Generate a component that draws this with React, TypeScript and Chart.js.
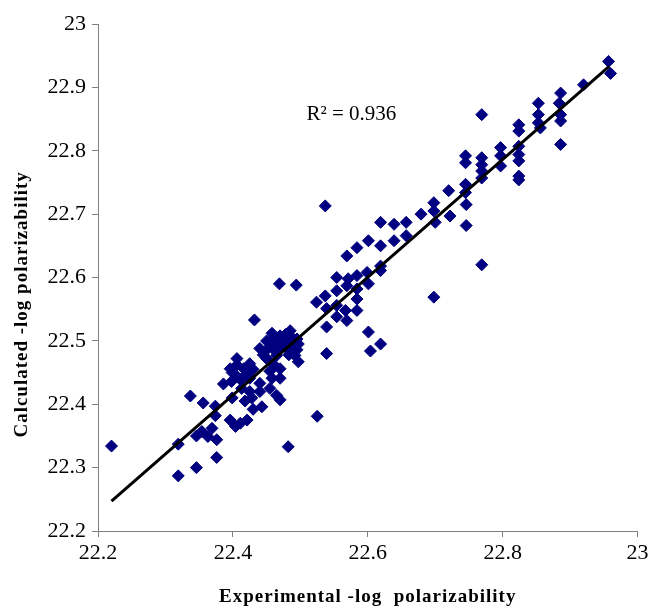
import React, { useEffect, useRef } from 'react';
import { Chart, registerables } from 'chart.js';

Chart.register(...registerables);

// Experimental -log polarizability (x) and calculated -log polarizability (y)
const experimental = [
  22.220, 22.319, 22.319, 22.346, 22.337, 22.356, 22.346, 22.354, 22.363, 22.369,
  22.374, 22.374, 22.376, 22.376, 22.386, 22.399, 22.399, 22.396, 22.404, 22.411,
  22.421, 22.430, 22.443, 22.398, 22.396, 22.406, 22.416, 22.425, 22.406, 22.413,
  22.425, 22.440, 22.455, 22.425, 22.440, 22.455, 22.462, 22.432, 22.440, 22.455,
  22.470, 22.485, 22.495, 22.450, 22.465, 22.480, 22.492, 22.497, 22.470, 22.458,
  22.470, 22.465, 22.470, 22.460, 22.475, 22.465, 22.480, 22.490, 22.458, 22.445,
  22.469, 22.494, 22.482, 22.525, 22.495, 22.450, 22.462, 22.478, 22.488, 22.452,
  22.470, 22.483, 22.497, 22.405, 22.420, 22.430, 22.412, 22.428, 22.418,
  22.524, 22.537, 22.539, 22.539, 22.537, 22.554, 22.554, 22.554, 22.554, 22.539,
  22.567, 22.569, 22.569, 22.571, 22.569, 22.584, 22.584, 22.584, 22.584, 22.584,
  22.599, 22.601, 22.601, 22.601, 22.604, 22.619, 22.619, 22.619, 22.619, 22.619,
  22.639, 22.639, 22.657, 22.657, 22.679, 22.698, 22.698, 22.700, 22.698,
  22.720, 22.722, 22.745, 22.745, 22.745, 22.745, 22.746, 22.746, 22.769, 22.769,
  22.769, 22.769, 22.769, 22.769, 22.797, 22.797, 22.797, 22.824, 22.824, 22.824,
  22.824, 22.824, 22.824, 22.824, 22.853, 22.853, 22.853, 22.856, 22.886, 22.884,
  22.886, 22.886, 22.886, 22.920, 22.957, 22.960,
];
const calculated = [
  22.334, 22.337, 22.287, 22.300, 22.413, 22.402, 22.350, 22.357, 22.349, 22.362,
  22.382, 22.397, 22.344, 22.316, 22.432, 22.450, 22.410, 22.375, 22.365, 22.370,
  22.375, 22.392, 22.396, 22.436, 22.456, 22.462, 22.456, 22.464, 22.472, 22.425,
  22.420, 22.420, 22.425, 22.441, 22.433, 22.452, 22.461, 22.533, 22.488, 22.499,
  22.508, 22.516, 22.503, 22.472, 22.477, 22.488, 22.477, 22.467, 22.456, 22.441,
  22.441, 22.414, 22.407, 22.490, 22.495, 22.505, 22.500, 22.492, 22.512, 22.478,
  22.590, 22.588, 22.333, 22.381, 22.486, 22.500, 22.485, 22.510, 22.505, 22.488,
  22.492, 22.478, 22.495, 22.445, 22.448, 22.455, 22.438, 22.410, 22.405,
  22.561, 22.571, 22.522, 22.480, 22.713, 22.600, 22.579, 22.556, 22.538, 22.551,
  22.548, 22.532, 22.587, 22.598, 22.634, 22.647, 22.603, 22.582, 22.566, 22.548,
  22.608, 22.590, 22.658, 22.514, 22.484, 22.495, 22.687, 22.650, 22.618, 22.611,
  22.684, 22.658, 22.687, 22.666, 22.700, 22.718, 22.705, 22.687, 22.569,
  22.737, 22.697, 22.747, 22.734, 22.792, 22.781, 22.715, 22.682, 22.857, 22.789,
  22.778, 22.768, 22.757, 22.620, 22.805, 22.792, 22.776, 22.841, 22.831, 22.807,
  22.794, 22.784, 22.760, 22.754, 22.875, 22.857, 22.844, 22.836, 22.891, 22.875,
  22.857, 22.847, 22.810, 22.904, 22.941, 22.922,
];

// Regression line end points
const fitX = [22.22, 22.958];
const fitY = [22.247, 22.933];

const xTicks = [22.2, 22.4, 22.6, 22.8, 23];
const yTicks = [22.2, 22.3, 22.4, 22.5, 22.6, 22.7, 22.8, 22.9, 23];

const r2Label = 'R\u00B2 = 0.936';
const r2Pos = [22.509, 22.857];

const xTitle = 'Experimental -log  polarizability';
const yTitle = 'Calculated -log polarizability';

const SERIF = '"Liberation Serif", "Times New Roman", serif';

export default function App() {
  const ref = useRef<HTMLCanvasElement>(null);

  useEffect(() => {
    if (!ref.current) return;

    const textPlugin = {
      id: 'extraText',
      afterDraw(chart: any) {
        const { ctx, scales, chartArea } = chart;
        const x = scales.x;
        const y = scales.y;
        ctx.save();
        ctx.fillStyle = '#000';
        ctx.font = `21px ${SERIF}`;
        ctx.textAlign = 'left';
        ctx.textBaseline = 'middle';
        ctx.fillText(r2Label, x.getPixelForValue(r2Pos[0]), y.getPixelForValue(r2Pos[1]));

        ctx.font = `bold 19px ${SERIF}`;
        (ctx as any).letterSpacing = '1px';
        ctx.textAlign = 'center';
        ctx.textBaseline = 'middle';
        ctx.fillText(xTitle, (chartArea.left + chartArea.right) / 2, 597);
        ctx.translate(22, chartArea.top + (chartArea.bottom - chartArea.top) * 0.553);
        ctx.rotate(-Math.PI / 2);
        ctx.fillText(yTitle, 0, 0);
        ctx.restore();
      },
    };

    const fmt = (v: any) => String(Number(Number(v).toFixed(1)));

    const chart = new Chart(ref.current, {
      type: 'scatter',
      data: {
        datasets: [
          {
            type: 'line',
            data: fitX.map((v, i) => ({ x: v, y: fitY[i] })),
            borderColor: '#000',
            borderWidth: 3,
            pointRadius: 0,
            fill: false,
            showLine: true,
          } as any,
          {
            data: experimental.map((v, i) => ({ x: v, y: calculated[i] })),
            pointStyle: 'rectRot',
            pointRadius: 6,
            backgroundColor: '#000080',
            borderColor: '#000080',
            borderWidth: 1,
          },
        ],
      },
      options: {
        animation: false,
        responsive: false,
        layout: { padding: { top: 24, right: 10.5, left: 0, bottom: 0 } },
        plugins: {
          legend: { display: false },
          tooltip: { enabled: false },
        },
        scales: {
          x: {
            type: 'linear',
            min: 22.2,
            max: 23,
            afterBuildTicks: (s: any) => {
              s.ticks = xTicks.map((v) => ({ value: v }));
            },
            afterFit: (s: any) => {
              s.height = 75;
              s.paddingLeft = 0;
              s.paddingRight = 0;
            },
            ticks: {
              callback: fmt,
              color: '#000',
              font: { family: SERIF, size: 22 },
              padding: 3,
              maxRotation: 0,
              autoSkip: false,
            },
            grid: {
              drawOnChartArea: false,
              drawTicks: true,
              tickLength: 6,
              color: '#808080',
            },
            border: { display: true, color: '#808080', width: 1 },
            title: { display: false },
          },
          y: {
            type: 'linear',
            min: 22.2,
            max: 23,
            afterBuildTicks: (s: any) => {
              s.ticks = yTicks.map((v) => ({ value: v }));
            },
            afterFit: (s: any) => {
              s.width = 98;
              s.paddingTop = 0;
              s.paddingBottom = 0;
            },
            ticks: {
              callback: fmt,
              color: '#000',
              font: { family: SERIF, size: 22 },
              padding: 6,
              autoSkip: false,
            },
            grid: {
              drawOnChartArea: false,
              drawTicks: true,
              tickLength: 6,
              color: '#808080',
            },
            border: { display: true, color: '#808080', width: 1 },
            title: { display: false },
          },
        },
      },
      plugins: [textPlugin],
    });

    return () => chart.destroy();
  }, []);

  return (
    <div style={{ position: 'absolute', left: 0, top: 0, width: 648, height: 606, background: '#fff' }}>
      <canvas ref={ref} width={648} height={606} />
    </div>
  );
}
